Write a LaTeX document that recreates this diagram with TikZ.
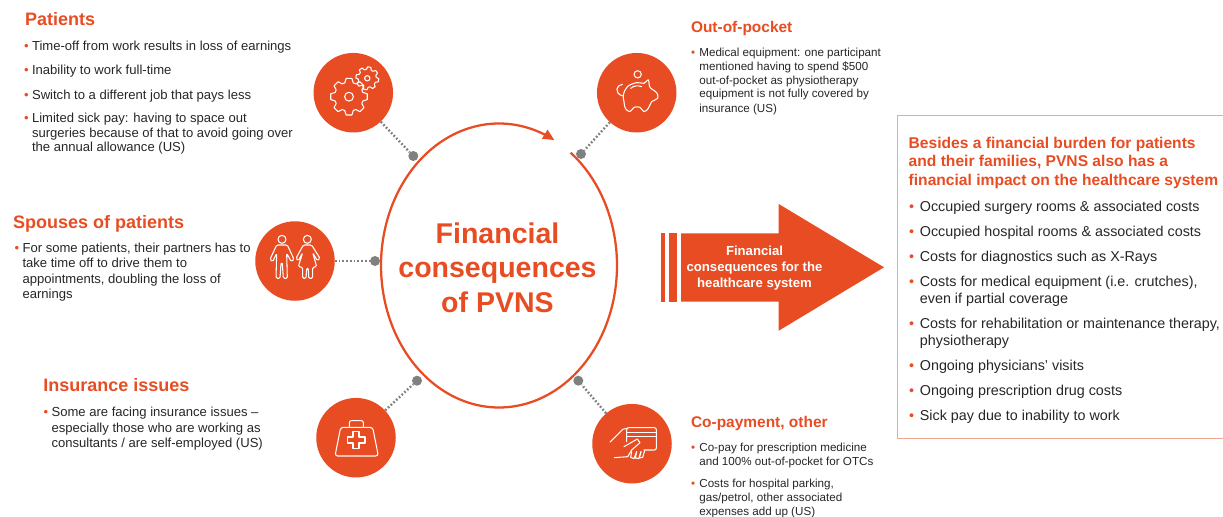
\documentclass[tikz,border=0pt]{standalone}
\usepackage{fontspec}
\setmainfont{Liberation Sans}
\usetikzlibrary{arrows.meta}
\definecolor{org}{HTML}{E84C22}
\definecolor{ink}{HTML}{262626}
\definecolor{dotgray}{HTML}{808080}
\definecolor{boxline}{HTML}{F3A58F}
\newcommand{\bul}[1]{\textcolor{org}{\textbullet}\hspace{\bulgap}\begin{tabular}[t]{@{}l@{}}#1\end{tabular}}
\newlength{\bulgap}
\tikzset{
  disc/.style={circle,fill=org,draw=none,minimum size=79.5*0.75pt,inner sep=0pt},
  pin/.style={circle,fill=dotgray,draw=none,minimum size=7.5pt,inner sep=0pt},
  link/.style={dotgray,line width=1.8pt,dash pattern=on 1.3pt off 1.5pt},
  txt/.style={anchor=base west,inner sep=0pt,outer sep=0pt,align=left,text=ink},
  headA/.style={txt,text=org,font=\bfseries\fontsize{13.5}{16}\selectfont},
  headB/.style={txt,text=org,font=\bfseries\fontsize{11.6}{16}\selectfont},
  bodyL/.style={txt,font=\fontsize{9.8}{11.6}\selectfont\setlength{\bulgap}{2.6pt}},
  bodyT/.style={txt,font=\fontsize{9.8}{11}\selectfont\setlength{\bulgap}{2.6pt}},
  bodyS/.style={txt,font=\fontsize{8.73}{10.5}\selectfont\setlength{\bulgap}{3.2pt}},
  bodyR/.style={txt,font=\fontsize{10.75}{12.8}\selectfont\setlength{\bulgap}{4.4pt}},
  ico/.style={draw=white,line width=0.8pt,line join=round,line cap=round},
  zoomed/.style={x=.25pt,y=-.25pt}
}
\begin{document}
\begin{tikzpicture}[x=.75pt,y=-.75pt]
\useasboundingbox (0,0) rectangle (1223,517);
% discs and pins
\node[disc] (gears) at (353.3,92.7) {};
\node[disc] (pig) at (636.7,92.7) {};
\node[disc] (people) at (295,261) {};
\node[disc] (bag) at (356,437.7) {};
\node[disc] (card) at (632,443.7) {};
\node[pin] (pa) at (413.3,156) {};
\node[pin] (pb) at (581,154) {};
\node[pin] (pc) at (375,261) {};
\node[pin] (pd) at (417,380.7) {};
\node[pin] (pe) at (578.3,380.7) {};
\draw[link] (gears) -- (pa);
\draw[link] (pig) -- (pb);
\draw[link] (people) -- (pc);
\draw[link] (bag) -- (pd);
\draw[link] (card) -- (pe);
% big ring
\draw[org,line width=1.7pt,-{Triangle[length=8.5pt,width=7.5pt]}] plot[smooth,samples=140,domain=52.6:-298] ({499+118*cos(\x)},{265.5-142*sin(\x)});
\node[anchor=center,inner sep=0pt,align=center,text=org,font=\bfseries\fontsize{21.4}{26}\selectfont] (title) at (497.5,267.5) {Financial\\consequences\\of PVNS};
% gears icon
\draw[ico] ({349+14.5*cos(-17)},{96.7+14.5*sin(-17)}) \foreach \a in {0,45,...,315} {
  -- ({349+14.5*cos(\a-17)},{96.7+14.5*sin(\a-17)})
  -- ({349+18.5*cos(\a-9)},{96.7+18.5*sin(\a-9)})
  -- ({349+18.5*cos(\a+9)},{96.7+18.5*sin(\a+9)})
  -- ({349+14.5*cos(\a+17)},{96.7+14.5*sin(\a+17)})
} -- cycle;
\draw[ico] (349,96.7) circle (3.3pt);
\draw[ico] ({367.3+9*cos(-6)},{78.3+9*sin(-6)}) \foreach \a in {10,55,...,325} {
  -- ({367.3+9*cos(\a-16)},{78.3+9*sin(\a-16)})
  -- ({367.3+11.5*cos(\a-8)},{78.3+11.5*sin(\a-8)})
  -- ({367.3+11.5*cos(\a+8)},{78.3+11.5*sin(\a+8)})
  -- ({367.3+9*cos(\a+16)},{78.3+9*sin(\a+16)})
} -- cycle;
\draw[ico] (367.3,78.3) circle (2pt);
% piggy
\begin{scope}[shift={(540,40)},zoomed]
\draw[ico] plot[smooth cycle,tension=.6] coordinates {(250,165)(262,140)(290,128)(312,130)(325,120)(330,142)(350,158)(353,175)(335,185)(325,205)(312,215)(300,202)(282,202)(270,215)(256,205)(252,185)};
\draw[ico] (272,145) .. controls (282,136) and (295,136) .. (305,140);
\draw[ico] (247,133) .. controls (228,135) and (222,160) .. (248,168);
\draw[ico] (293,103) circle (2.7pt);
\end{scope}
% people
\begin{scope}[shift={(250,210)},zoomed]
\draw[ico] (96,88) circle (3pt);
\draw[ico,rounded corners=1pt] (80,105)--(112,105)--(132,148)--(124,155)--(110,130)--(112,205)--(100,205)--(97,160)--(93,160)--(90,205)--(78,205)--(80,130)--(68,155)--(60,148)--cycle;
\draw[ico] (172,88) circle (3pt);
\draw[ico,rounded corners=1pt] (160,105)--(185,105)--(210,145)--(202,152)--(188,128)--(200,170)--(188,172)--(188,205)--(176,205)--(175,175)--(170,175)--(168,205)--(158,205)--(158,172)--(145,170)--(158,128)--(145,152)--(138,145)--cycle;
\end{scope}
% bag
\begin{scope}[shift={(300,370)},zoomed]
\draw[ico,rounded corners=2pt] (105,258)--(235,258)--(218,172)--(122,172)--cycle;
\draw[ico,rounded corners=1.5pt] (148,172)--(148,152)--(190,152)--(190,172);
\draw[ico] (159,184)--(177,184)--(177,201)--(195,201)--(195,219)--(177,219)--(177,236)--(159,236)--(159,219)--(142,219)--(142,201)--(159,201)--cycle;
\end{scope}
% card
\begin{scope}[shift={(560,370)},zoomed]
\draw[ico,rounded corners=1.5pt] (200,215)--(200,173)--(289,173)--(289,240)--(252,240);
\draw[ico] (200,187)--(289,187) (200,200)--(289,200);
\draw[ico] (150,216)--(188,178)--(200,175);
\draw[ico] (163,263)--(203,260);
\draw[ico] (192,230)--(232,207)--(240,218)--(215,240)--(203,260);
\draw[ico] (215,245)--(212,262)--(222,266)--(230,245);
\draw[ico] (230,245)--(226,264)--(236,266)--(243,245);
\draw[ico] (243,245)--(238,264)--(248,262)--(254,242);
\end{scope}
% big arrow
\fill[org] (661,233.3) rectangle (665,301.7);
\fill[org] (669,233.3) rectangle (677,301.7);
\fill[org] (681,233.3)--(778.7,233.3)--(778.7,204)--(884,267.3)--(778.7,330.7)--(778.7,301.7)--(681,301.7)--cycle;
\node[anchor=center,inner sep=0pt,align=center,text=white,font=\bfseries\fontsize{9.85}{11.8}\selectfont] (arrowtxt) at (754.5,268) {Financial\\consequences for the\\healthcare system};
% right box
\draw[boxline,line width=.7pt] (1223.5,115.5)--(897.7,115.5)--(897.7,438.5)--(1223.5,438.5);
% texts
\node[headA] (h1) at (25,26) {Patients};
\node[bodyT] (a1) at (24,50.5) {\bul{Time-off from work results in loss of earnings}};
\node[bodyT] (a2) at (24,74.5) {\bul{Inability to work full-time}};
\node[bodyT] (a3) at (24,99.5) {\bul{Switch to a different job that pays less}};
\node[bodyT] (a4) at (24,122.5) {\bul{Limited sick pay: having to space out\\surgeries because of that to avoid going over\\the annual allowance (US)}};
\node[headA] (h2) at (13,228) {Spouses of patients};
\node[bodyL] (b1) at (14.5,252.5) {\bul{For some patients, their partners has to\\take time off to drive them to\\appointments, doubling the loss of\\earnings}};
\node[headA] (h3) at (43.3,391.7) {Insurance issues};
\node[bodyL] (c1) at (43.5,416.7) {\bul{Some are facing insurance issues –\\especially those who are working as\\consultants / are self-employed (US)}};
\node[headB] (h4) at (691,32.7) {Out-of-pocket};
\node[bodyS] (d1) at (691,56) {\bul{Medical equipment: one participant\\mentioned having to spend \$500\\out-of-pocket as physiotherapy\\equipment is not fully covered by\\insurance (US)}};
\node[headB] (h5) at (691,427.7) {Co-payment, other};
\node[bodyS] (e1) at (691,451.7) {\bul{Co-pay for prescription medicine\\and 100\% out-of-pocket for OTCs}};
\node[bodyS] (e2) at (691,487) {\bul{Costs for hospital parking,\\gas/petrol, other associated\\expenses add up (US)}};
\node[txt,text=org,font=\bfseries\fontsize{11.7}{14}\selectfont] (r0) at (908.7,148.3) {\begin{tabular}[t]{@{}l@{}}Besides a financial burden for patients\\and their families, PVNS also has a\\financial impact on the healthcare system\end{tabular}};
\node[bodyR] (r1) at (909,211) {\bul{Occupied surgery rooms \& associated costs}};
\node[bodyR] (r2) at (909,236) {\bul{Occupied hospital rooms \& associated costs}};
\node[bodyR] (r3) at (909,261) {\bul{Costs for diagnostics such as X-Rays}};
\node[bodyR] (r4) at (909,286) {\bul{Costs for medical equipment (i.e. crutches),\\even if partial coverage}};
\node[bodyR] (r5) at (909,328) {\bul{Costs for rehabilitation or maintenance therapy,\\physiotherapy}};
\node[bodyR] (r6) at (909,370) {\bul{Ongoing physicians’ visits}};
\node[bodyR] (r7) at (909,395) {\bul{Ongoing prescription drug costs}};
\node[bodyR] (r8) at (909,420) {\bul{Sick pay due to inability to work}};
\end{tikzpicture}
\end{document}
